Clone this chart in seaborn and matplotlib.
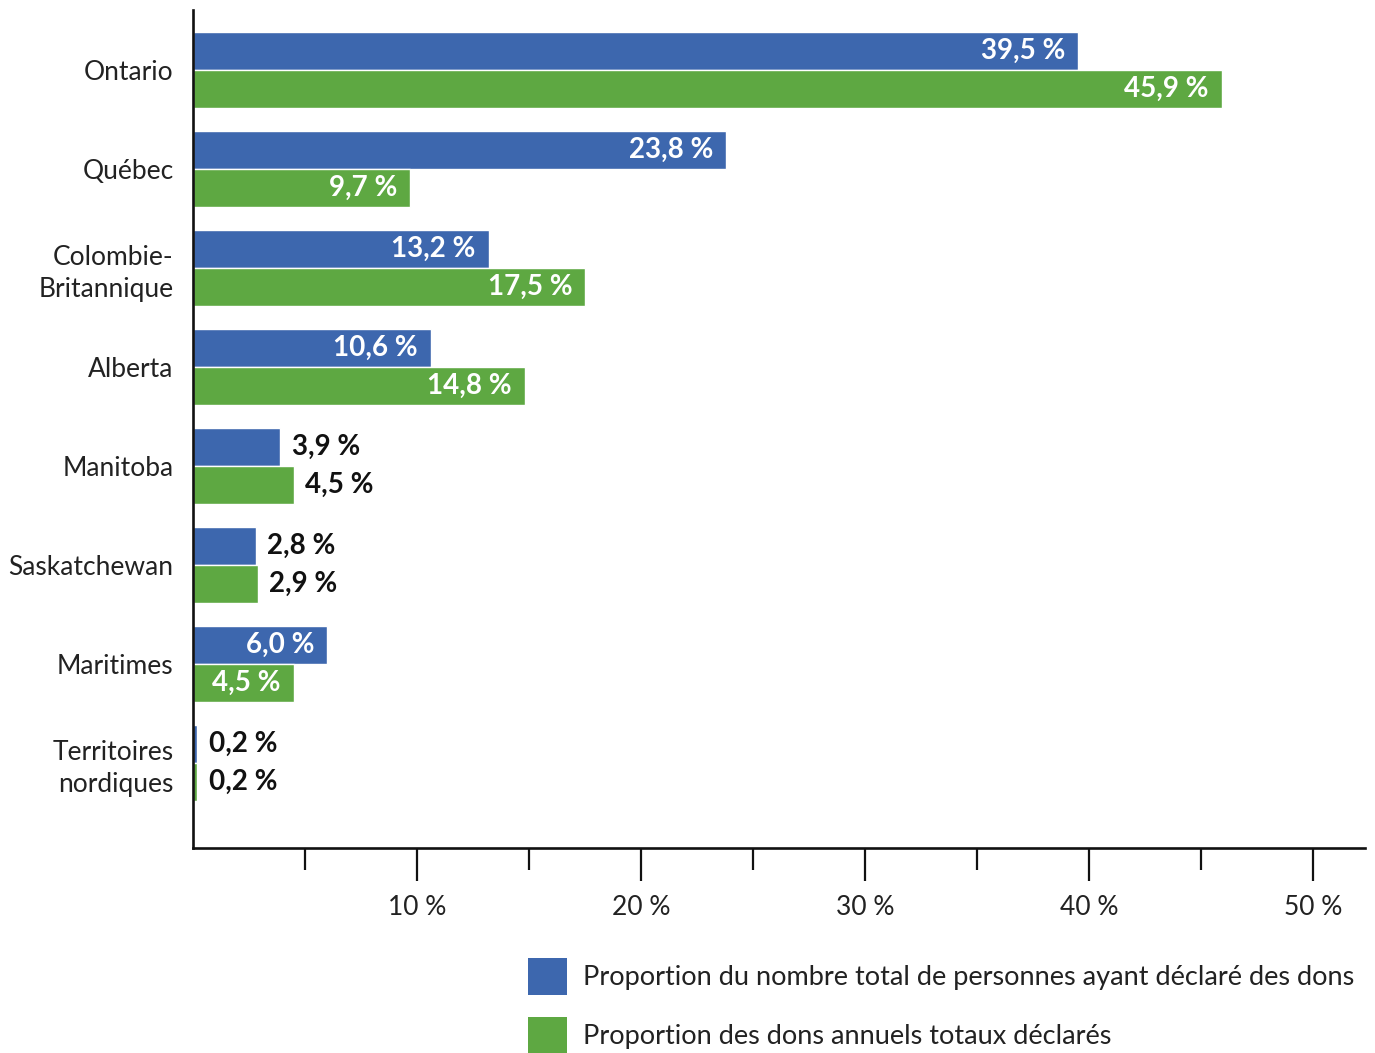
import matplotlib
matplotlib.use("Agg")
import matplotlib.pyplot as plt
import seaborn as sns
import pandas as pd
from matplotlib.patches import Patch
from matplotlib.ticker import FixedLocator

categories = ["Ontario", "Québec", "Colombie-\nBritannique", "Alberta", "Manitoba",
              "Saskatchewan", "Maritimes", "Territoires\nnordiques"]
donors_share = [39.5, 23.8, 13.2, 10.6, 3.9, 2.8, 6.0, 0.2]
donations_share = [45.9, 9.7, 17.5, 14.8, 4.5, 2.9, 4.5, 0.2]
series_names = ["Proportion du nombre total de personnes ayant déclaré des dons",
                "Proportion des dons annuels totaux déclarés"]
tick_values = [10, 20, 30, 40, 50]
tick_labels = ["10 %", "20 %", "30 %", "40 %", "50 %"]

colors = ["#3D67AE", "#5EA842"]

df = pd.DataFrame({
    "cat": categories * 2,
    "val": donors_share + donations_share,
    "series": [series_names[0]] * len(categories) + [series_names[1]] * len(categories),
})

sns.set_theme(style="white")
plt.rcParams["font.family"] = ["Lato", "DejaVu Sans"]

fig = plt.figure(figsize=(13.75, 10.53), dpi=100)
ax = fig.add_axes([193 / 1375, 1 - 848 / 1053, (1365 - 193) / 1375, (848 - 10) / 1053])

sns.barplot(data=df, y="cat", x="val", hue="series", orient="h", palette=colors,
            width=0.77, ax=ax, legend=False, saturation=1, errorbar=None)

ax.set_xlim(0, 52.3)
ax.set_ylim(7.86, -0.606)
ax.set_xlabel("")
ax.set_ylabel("")

for s in ["top", "right"]:
    ax.spines[s].set_visible(False)
for s in ["left", "bottom"]:
    ax.spines[s].set_color("#111111")
    ax.spines[s].set_linewidth(1.9)

ax.xaxis.set_major_locator(FixedLocator(tick_values))
ax.set_xticklabels(tick_labels)
ax.xaxis.set_minor_locator(FixedLocator([5, 15, 25, 35, 45]))
ax.tick_params(axis="x", which="major", length=24, width=1.6, color="#111111",
               direction="out", bottom=True, pad=10, labelsize=19, labelcolor="#222222")
ax.tick_params(axis="x", which="minor", length=16, width=1.6, color="#111111",
               direction="out", bottom=True)
ax.tick_params(axis="y", length=0, pad=14, labelsize=19, labelcolor="#222222")
for lab in ax.get_yticklabels():
    lab.set_multialignment("right")
    lab.set_linespacing(1.35)

# value labels
inside_min = 5.0
for ci, container in enumerate(ax.containers):
    for i, bar in enumerate(container):
        v = bar.get_width()
        y = bar.get_y() + bar.get_height() / 2
        txt = f"{v:.1f}".replace(".", ",") + " %"
        inside = v > inside_min or categories[i] == "Maritimes"
        if inside:
            ax.text(v - 0.58, y, txt, ha="right", va="center", color="white",
                    fontsize=20, fontweight="bold")
        else:
            ax.text(v + 0.5, y, txt, ha="left", va="center", color="#111111",
                    fontsize=20, fontweight="bold")

handles = [Patch(facecolor=c, edgecolor="none") for c in colors]
fig.legend(handles, series_names, loc="upper left",
           bbox_to_anchor=(517 / 1375, 1 - 947 / 1053), frameon=False,
           fontsize=19.5, handlelength=1.45, handleheight=1.72, labelspacing=0.82,
           handletextpad=0.58, borderaxespad=0, labelcolor="#222222")

fig.savefig("out.png", dpi=100)
